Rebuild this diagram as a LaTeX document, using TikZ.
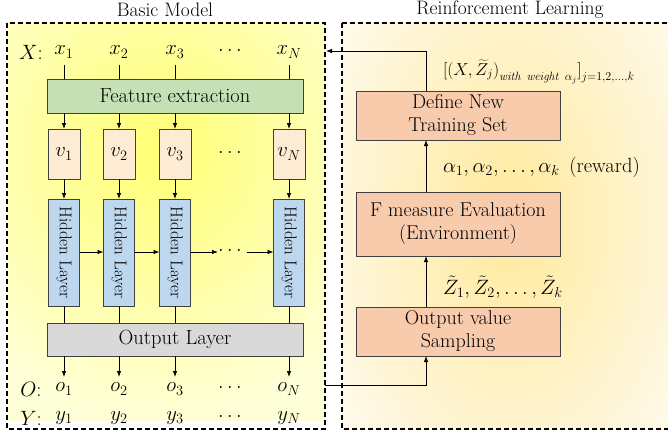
\documentclass[tikz,border=0pt]{standalone}
\usetikzlibrary{arrows.meta,calc}
\definecolor{featg}{HTML}{C5E0B4}
\definecolor{vcol}{HTML}{FDEBD3}
\definecolor{hcol}{HTML}{BDD7EE}
\definecolor{ocol}{HTML}{D9D9D9}
\definecolor{rlcol}{HTML}{F8CBAD}
\definecolor{bord}{HTML}{404040}
\begin{document}
\begin{tikzpicture}[x=1pt,y=-1pt,
  every node/.style={inner sep=0pt,outer sep=0pt},
  dbox/.style={draw=black,line width=1.6pt,dash pattern=on 5pt off 3pt},
  bx/.style={draw=bord,line width=0.8pt,anchor=north west},
  lbl/.style={font=\fontsize{20.5}{23}\selectfont},
  hid/.style={bx,fill=hcol,minimum width=31pt,minimum height=107pt},
  vb/.style={bx,fill=vcol,minimum width=32pt,minimum height=50pt},
  rl/.style={bx,fill=rlcol,minimum width=204pt,align=center,font=\fontsize{20}{23}\selectfont},
  arr/.style={-{Latex[length=6pt,width=4.5pt]},line width=0.8pt},
  ln/.style={line width=0.8pt}]
\useasboundingbox (0,0) rectangle (668,436);
% backgrounds
\begin{scope}
\clip (7,23) rectangle (325,429);
\shade[inner color={rgb,255:red,255;green,255;blue,115}, outer color={rgb,255:red,255;green,255;blue,215}] (-90,-120) rectangle (410,420);
\end{scope}
\begin{scope}
\clip (342,23) rectangle (675,429);
\shade[inner color={rgb,255:red,255;green,233;blue,155}, outer color={rgb,255:red,255;green,250;blue,235}] (300,-100) rectangle (720,540);
\end{scope}
\draw[dbox] (7,23) rectangle (325,429);
\draw[dbox] (342,23) -- (342,429) -- (675,429) (342,23) -- (675,23);
\node[font=\fontsize{19.5}{22}\selectfont] (t1) at (165,10) {Basic Model};
\node[font=\fontsize{19.5}{22}\selectfont] (t2) at (510,10) {Reinforcement Learning};
% rows
\node[lbl] (X) at (31,52) {$X$:};
\node[lbl] (O) at (31,389) {$O$:};
\node[lbl] (Y) at (31,418) {$Y$:};
\foreach \i/\xx/\s in {1/64/1,2/119/2,3/175/3,4/289/N}{
  \node[lbl] (x\i) at (\xx,52) {$x_{\s}$};
  \node[lbl] (o\i) at (\xx,389) {$o_{\s}$};
  \node[lbl] (y\i) at (\xx,418) {$y_{\s}$};
}
\node[lbl] (xd) at (230,50) {$\dots$};
\node[lbl] (od) at (230,387) {$\dots$};
\node[lbl] (yd) at (230,416) {$\dots$};
% feature extraction
\node[bx,fill=featg,minimum width=256pt,minimum height=34pt,lbl] (fe) at (47,79) {Feature extraction};
\node[bx,fill=ocol,minimum width=256pt,minimum height=33pt,lbl] (ol) at (47,323) {Output Layer};
% v boxes and hidden
\foreach \i/\xx/\s in {1/64/1,2/119/2,3/175/3,4/289/N}{
  \node[vb,anchor=north,lbl] (v\i) at (\xx,129) {$v_{\s}$};
  \node[hid,anchor=north] (h\i) at (\xx,199) {};
  \node[rotate=-90,font=\fontsize{17}{19}\selectfont] at (h\i.center) {Hidden Layer};
  \draw[ln] (x\i.south |- 0,65) -- (x\i.south |- fe.north);
  \draw[arr] (v\i.north |- fe.south) -- (v\i.north);
  \draw[arr] (v\i.south) -- (h\i.north);
  \draw[ln] (h\i.south) -- (h\i.south |- ol.north);
  \draw[arr] (h\i.south |- ol.south) -- (o\i.north |- 0,377);
}
\node[lbl] (vd) at (230,152) {$\dots$};
\node[lbl] (hd) at (230,250) {$\dots$};
\draw[arr] (h1.east |- 0,252) -- (h2.west |- 0,252);
\draw[arr] (h2.east |- 0,252) -- (h3.west |- 0,252);
\draw[arr] (h3.east |- 0,252) -- (218,252);
\draw[arr] (247,252) -- (h4.west |- 0,252);
% right side
\node[rl,minimum height=49pt] (def) at (356,91) {Define New\\Training Set};
\node[rl,minimum height=64pt] (fm) at (356,192) {F measure Evaluation\\(Environment)};
\node[rl,minimum height=49pt] (ov) at (356,307) {Output value\\Sampling};
\draw[arr] (426,192) -- (426,140);
\draw[arr] (426,307) -- (426,256);
\node[lbl,anchor=west] (rew) at (443,167) {$\alpha_1,\alpha_2,\dots,\alpha_k$\, (reward)};
\node[lbl,anchor=west] (zz) at (443,287) {$\tilde{Z}_1,\tilde{Z}_2,\dots,\tilde{Z}_k$};
\node[font=\fontsize{17}{20}\selectfont,anchor=west] (ws) at (443,72) {$\Big[\big(X,\widetilde{Z}_j\big)_{\mathit{with\ weight}\ \alpha_j}\Big]_{j=1,2,\dots,k}$};
\coordinate (inX) at (326,51);
\coordinate (outO) at (325,385);
\draw[arr] (426,91) -- (426,51) -- (inX);
\draw[arr] (outO) -- (426,385) -- (426,356);
\end{tikzpicture}
\end{document}
